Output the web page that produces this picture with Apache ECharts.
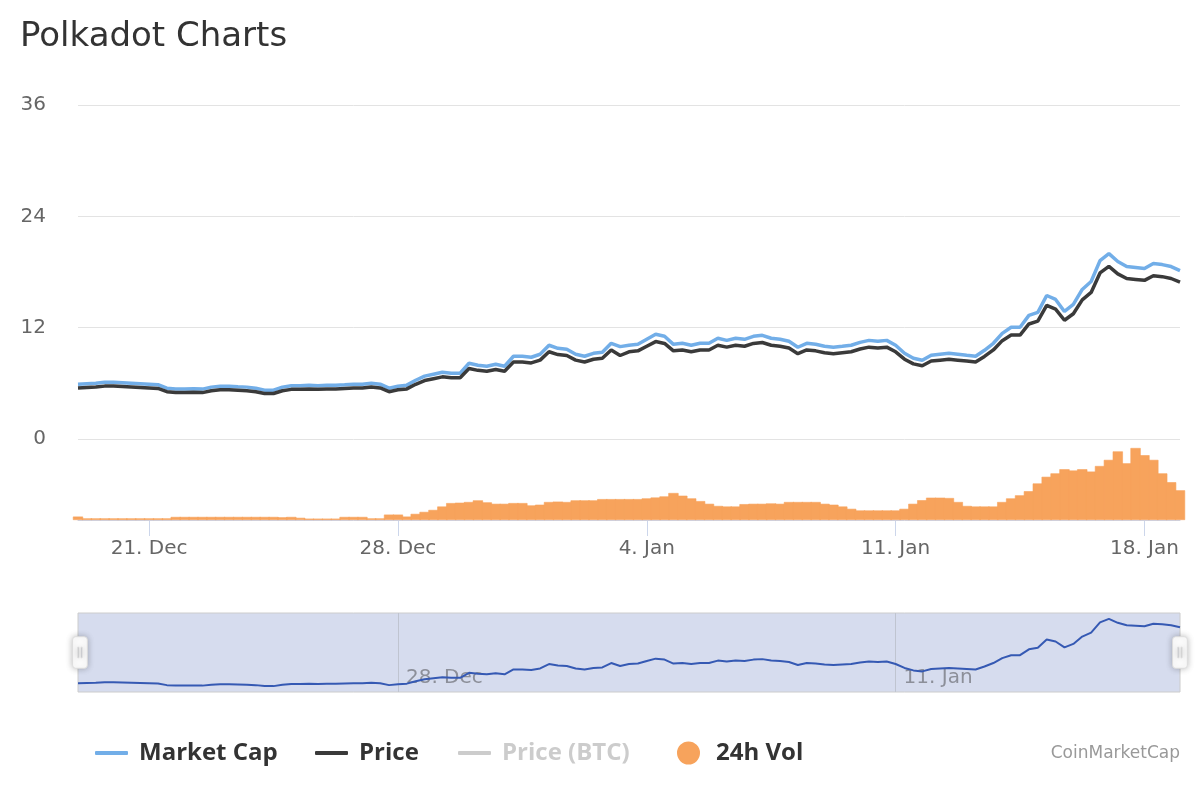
<!DOCTYPE html>
<html>
<head>
<meta charset="utf-8">
<script src="https://cdn.jsdelivr.net/npm/echarts@6/dist/echarts.min.js"></script>
<style>
html,body{margin:0;padding:0;background:#fff;}
#chart{width:1200px;height:800px;}
</style>
</head>
<body>
<div id="chart"></div>
<script>
// 6-hourly samples from 19 Dec 2020 00:00 UTC to 19 Jan 2021 00:00 UTC
const startUTC = Date.UTC(2020, 11, 19);
const stepMs = 6 * 3600 * 1000;

// Price (USD)
const priceUSD = [
  5.5, 5.55, 5.6, 5.7, 5.7, 5.65, 5.6, 5.55, 5.5, 5.45,
  5.1, 5.0, 5.0, 5.05, 5.0, 5.2, 5.3, 5.3, 5.25, 5.2,
  5.1, 4.9, 4.9, 5.2, 5.35, 5.35, 5.4, 5.35, 5.4, 5.4,
  5.45, 5.5, 5.5, 5.6, 5.5, 5.1, 5.3, 5.4, 5.9, 6.3,
  6.5, 6.7, 6.6, 6.6, 7.6, 7.4, 7.3, 7.5, 7.3, 8.3,
  8.3, 8.2, 8.5, 9.4, 9.1, 9.0, 8.5, 8.3, 8.6, 8.7,
  9.6, 9.0, 9.4, 9.5, 10.0, 10.5, 10.3, 9.5, 9.6, 9.4,
  9.6, 9.6, 10.1, 9.9, 10.1, 10.0, 10.3, 10.4, 10.1, 10.0,
  9.8, 9.2, 9.6, 9.5, 9.3, 9.2, 9.3, 9.4, 9.7, 9.9,
  9.8, 9.9, 9.4, 8.6, 8.1, 7.9, 8.4, 8.5, 8.6, 8.5,
  8.4, 8.3, 8.9, 9.6, 10.6, 11.2, 11.2, 12.4, 12.7, 14.4,
  14.0, 12.8, 13.5, 15.0, 15.8, 17.9, 18.6, 17.8, 17.3, 17.2,
  17.1, 17.6, 17.5, 17.3, 16.9
];

// Market cap (billion USD)
const marketCapB = [
  5.25, 5.30, 5.35, 5.44, 5.44, 5.40, 5.35, 5.30, 5.25, 5.20,
  4.87, 4.78, 4.78, 4.82, 4.78, 4.97, 5.06, 5.06, 5.01, 4.97,
  4.87, 4.68, 4.68, 4.97, 5.11, 5.11, 5.16, 5.11, 5.16, 5.16,
  5.20, 5.25, 5.25, 5.35, 5.25, 4.87, 5.06, 5.16, 5.63, 6.02,
  6.21, 6.40, 6.30, 6.30, 7.26, 7.07, 6.97, 7.16, 6.97, 7.93,
  7.93, 7.83, 8.12, 8.98, 8.69, 8.60, 8.12, 7.93, 8.21, 8.31,
  9.17, 8.85, 8.98, 9.07, 9.55, 10.03, 9.84, 9.07, 9.17, 8.98,
  9.17, 9.17, 9.65, 9.45, 9.65, 9.55, 9.84, 9.93, 9.65, 9.55,
  9.36, 8.79, 9.17, 9.07, 8.88, 8.79, 8.88, 8.98, 9.26, 9.45,
  9.36, 9.45, 8.98, 8.21, 7.74, 7.54, 8.02, 8.12, 8.21, 8.12,
  8.02, 7.93, 8.50, 9.17, 10.12, 10.70, 10.70, 11.84, 12.13, 13.75,
  13.37, 12.22, 12.89, 14.33, 15.09, 17.09, 17.76, 17.00, 16.52, 16.43,
  16.33, 16.81, 16.71, 16.52, 16.14
];

// 24h volume (billion USD)
const volumeB = [
  0.19, 0.09, 0.09, 0.09, 0.09, 0.09, 0.09, 0.09, 0.09, 0.09,
  0.09, 0.17, 0.17, 0.17, 0.17, 0.17, 0.17, 0.17, 0.17, 0.17,
  0.17, 0.17, 0.17, 0.15, 0.17, 0.12, 0.075, 0.075, 0.075, 0.075,
  0.17, 0.17, 0.17, 0.09, 0.09, 0.3, 0.3, 0.19, 0.34, 0.45,
  0.56, 0.75, 0.94, 0.96, 1.0, 1.09, 0.98, 0.9, 0.9, 0.94,
  0.94, 0.81, 0.85, 1.0, 1.02, 1.0, 1.09, 1.09, 1.09, 1.16,
  1.16, 1.16, 1.16, 1.16, 1.2, 1.25, 1.31, 1.5, 1.35, 1.2,
  1.05, 0.9, 0.78, 0.75, 0.75, 0.88, 0.9, 0.9, 0.92, 0.9,
  1.0, 1.0, 1.0, 1.0, 0.9, 0.85, 0.75, 0.62, 0.53, 0.53,
  0.53, 0.53, 0.53, 0.62, 0.9, 1.1, 1.24, 1.24, 1.22, 1.0,
  0.78, 0.75, 0.75, 0.75, 1.0, 1.2, 1.37, 1.6, 2.03, 2.4,
  2.59, 2.82, 2.75, 2.82, 2.69, 3.0, 3.34, 3.81, 3.15, 4.0,
  3.6, 3.34, 2.59, 2.1, 1.65
];

const categories = priceUSD.map((_, i) => new Date(startUTC + i * stepMs).toISOString().slice(0, 16));

const tickDates = ['2020-12-21T00:00', '2020-12-28T00:00', '2021-01-04T00:00', '2021-01-11T00:00', '2021-01-18T00:00'];
const tickLabels = ['21. Dec', '28. Dec', '4. Jan', '11. Jan', '18. Jan'];
const navDates = ['2020-12-28T00:00', '2021-01-11T00:00'];
const navLabels = ['28. Dec', '11. Jan'];
const priceTicks = [0, 12, 24, 36];

const isTick = (i, v) => tickDates.indexOf(v) >= 0;
const isNav = (i, v) => navDates.indexOf(v) >= 0;

const chart = echarts.init(document.getElementById('chart'), null, {renderer: 'canvas'});

const axisFont = 'DejaVu Sans';
const legendText = {fontFamily: 'Open Sans', fontWeight: 700, fontSize: 24, color: '#333', padding: [0, 0, 0, 6]};

const option = {
  animation: false,
  backgroundColor: '#fff',
  title: {
    text: 'Polkadot Charts',
    left: 20, top: 20, padding: 0,
    textStyle: {fontFamily: axisFont, fontWeight: 'normal', fontSize: 34, color: '#333'}
  },
  graphic: [{
    type: 'text', right: 20, top: 745,
    style: {text: 'CoinMarketCap', fill: '#999', font: '17px "DejaVu Sans"'}
  }],
  legend: [
    {data: ['Market Cap'], left: 95, top: 741, padding: 0, itemWidth: 33, itemHeight: 4, icon: 'roundRect', textStyle: legendText},
    {data: ['Price'], left: 315, top: 741, padding: 0, itemWidth: 33, itemHeight: 4, icon: 'roundRect', textStyle: legendText},
    {data: ['Price (BTC)'], left: 458, top: 741, padding: 0, itemWidth: 33, itemHeight: 4, icon: 'roundRect', textStyle: legendText,
     inactiveColor: '#ccc', selected: {'Price (BTC)': false}},
    {data: ['24h Vol'], left: 677, top: 741, padding: 0, itemWidth: 21, itemHeight: 21, icon: 'circle',
     textStyle: Object.assign({}, legendText, {padding: [0, 0, 0, 12]})}
  ],
  grid: [
    {left: 78, right: 20, top: 105, height: 334},
    {left: 78, right: 20, top: 439, height: 81},
    {left: 78, right: 20, top: 613, height: 79, show: true, backgroundColor: '#d6dcee', borderColor: '#cccccc', borderWidth: 1}
  ],
  xAxis: [
    {type: 'category', gridIndex: 0, data: categories, boundaryGap: false, show: false},
    {type: 'category', gridIndex: 1, data: categories, boundaryGap: false,
     axisLine: {show: true, lineStyle: {color: '#ccd6eb', width: 1}},
     axisTick: {show: true, interval: isTick, length: 16, lineStyle: {color: '#ccd6eb'}},
     axisLabel: {interval: isTick, margin: 19, color: '#666', fontFamily: axisFont, fontSize: 20,
       formatter: v => tickLabels[tickDates.indexOf(v)] || ''},
     splitLine: {show: false}},
    {type: 'category', gridIndex: 2, data: categories, boundaryGap: false,
     axisLine: {show: false}, axisTick: {show: false},
     axisLabel: {inside: true, interval: isNav, align: 'left', verticalAlign: 'bottom', padding: [0, 0, 0, 8], margin: 4,
       color: '#8c8f99', fontFamily: axisFont, fontSize: 20,
       formatter: v => navLabels[navDates.indexOf(v)] || ''},
     splitLine: {show: true, interval: isNav, lineStyle: {color: '#bfc4d0', width: 1}}}
  ],
  yAxis: [
    {type: 'value', gridIndex: 0, min: 0, max: 36, interval: 12,
     axisLine: {show: false}, axisTick: {show: false},
     axisLabel: {margin: 32, color: '#666', fontFamily: axisFont, fontSize: 20, verticalAlign: 'middle', padding: [0, 0, 12, 0],
       formatter: v => priceTicks.indexOf(v) >= 0 ? String(v) : ''},
     splitLine: {show: true, lineStyle: {color: '#e3e3e3', width: 1}}},
    {type: 'value', gridIndex: 0, min: 0, max: 32, show: false},
    {type: 'value', gridIndex: 1, min: 0, max: 4.5, show: false},
    {type: 'value', gridIndex: 2, min: 3.7, max: 19.8, show: false}
  ],
  dataZoom: [{
    type: 'slider', xAxisIndex: [2], left: 78, right: 20, top: 613, height: 79,
    start: 0, end: 100, filterMode: 'none', zoomLock: true,
    showDetail: false, showDataShadow: false, brushSelect: false,
    backgroundColor: 'rgba(0,0,0,0)', borderColor: 'rgba(0,0,0,0)', fillerColor: 'rgba(0,0,0,0)',
    moveHandleSize: 0,
    handleIcon: 'path://M3,0H11Q14,0,14,3V27Q14,30,11,30H3Q0,30,0,27V3Q0,0,3,0ZM5,10V20H6V10ZM8,10V20H9V10Z',
    handleSize: '40%',
    handleStyle: {color: '#fff', borderColor: '#dddddd', borderWidth: 1, shadowBlur: 6, shadowColor: 'rgba(0,0,0,0.25)'},
    emphasis: {handleStyle: {color: '#fff', borderColor: '#dddddd', shadowBlur: 6, shadowColor: 'rgba(0,0,0,0.25)'}},
    dataBackground: {lineStyle: {opacity: 0}, areaStyle: {opacity: 0}},
    selectedDataBackground: {lineStyle: {opacity: 0}, areaStyle: {opacity: 0}}
  }],
  series: [
    {name: 'Market Cap', type: 'line', xAxisIndex: 0, yAxisIndex: 1, data: marketCapB,
     showSymbol: false, symbol: 'none', color: '#72aee8', lineStyle: {width: 3.5, color: '#72aee8'}, z: 3},
    {name: 'Price', type: 'line', xAxisIndex: 0, yAxisIndex: 0, data: priceUSD,
     showSymbol: false, symbol: 'none', color: '#3a3a3a', lineStyle: {width: 3.5, color: '#3a3a3a'}, z: 4},
    {name: 'Price (BTC)', type: 'line', xAxisIndex: 0, yAxisIndex: 0, data: [],
     showSymbol: false, symbol: 'none', color: '#cccccc', lineStyle: {width: 3}},
    {name: '24h Vol', type: 'bar', xAxisIndex: 1, yAxisIndex: 2, data: volumeB, clip: true,
     barWidth: '115%', barCategoryGap: 0, color: '#f7a35c',
     itemStyle: {color: '#f7a35c', borderColor: '#f7a35c', borderWidth: 0.6}},
    {name: 'Navigator', type: 'line', xAxisIndex: 2, yAxisIndex: 3, data: priceUSD,
     showSymbol: false, symbol: 'none', color: '#3559b3', lineStyle: {width: 2, color: '#3559b3'}, z: 3}
  ]
};
chart.setOption(option);
</script>
</body>
</html>
